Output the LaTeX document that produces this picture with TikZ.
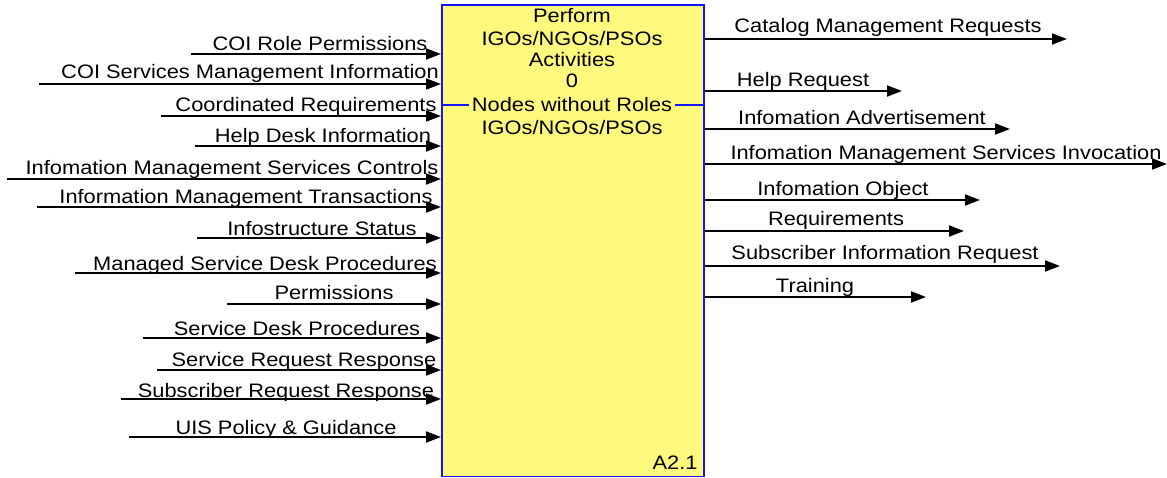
\documentclass[tikz,border=0pt]{standalone}
\usepackage{fontspec}
\setmainfont{Liberation Sans}
\newfontfamily\lblfont[FakeStretch=1.12]{Liberation Sans}
\usetikzlibrary{arrows.meta}
\definecolor{boxyellow}{RGB}{255,250,125}
\definecolor{boxblue}{RGB}{20,20,255}
\begin{document}
\begin{tikzpicture}[x=1pt,y=-1pt,
  lbl/.style={font=\lblfont\fontsize{19.5}{22}\selectfont, inner sep=0pt, anchor=base},
  flow/.style={line width=1.8pt, -{Triangle[length=15pt,width=11pt]}},
  actbox/.style={draw=boxblue, line width=1.8pt, fill=boxyellow, inner sep=0pt,
    minimum width=262pt, minimum height=471pt, anchor=north west},
  divider/.style={draw=boxblue, line width=1.4pt}]
\useasboundingbox (0,0) rectangle (1167,478);

% activity box
\node[actbox] (act) at (441,4.5) {};
\node[lbl] (t1) at (572,23) {Perform};
\node[lbl] (t2) at (572,46) {IGOs/NGOs/PSOs};
\node[lbl] (t3) at (572,67) {Activities};
\node[lbl] (t4) at (572,88) {0};
\node[lbl, inner xsep=3pt] (nwr) at (572,112) {Nodes without Roles};
\node[lbl] (t6) at (572,135) {IGOs/NGOs/PSOs};
\node[lbl] (num) at (675,469) {A2.1};
\draw[divider] (act.west |- 0,105) -- (nwr.west |- 0,105);
\draw[divider] (nwr.east |- 0,105) -- (act.east |- 0,105);

% inputs (left)
\node[lbl] (i1) at (320,51) {COI Role Permissions};
\coordinate (s1) at (191,54);
\node[lbl] (i2) at (250,79) {COI Services Management Information};
\coordinate (s2) at (39,84);
\node[lbl] (i3) at (306,112) {Coordinated Requirements};
\coordinate (s3) at (161,116);
\node[lbl] (i4) at (323,143) {Help Desk Information};
\coordinate (s4) at (195,146);
\node[lbl] (i5) at (232,175) {Infomation Management Services Controls};
\coordinate (s5) at (7,179);
\node[lbl] (i6) at (246,204) {Information Management Transactions};
\coordinate (s6) at (37,207);
\node[lbl] (i7) at (322,236) {Infostructure Status};
\coordinate (s7) at (197,238);
\node[lbl] (i8) at (265,271) {Managed Service Desk Procedures};
\coordinate (s8) at (75,273);
\node[lbl] (i9) at (334,300) {Permissions};
\coordinate (s9) at (227,304);
\node[lbl] (i10) at (297,335) {Service Desk Procedures};
\coordinate (s10) at (143,338);
\node[lbl] (i11) at (304,366) {Service Request Response};
\coordinate (s11) at (157,370);
\node[lbl] (i12) at (286,397) {Subscriber Request Response};
\coordinate (s12) at (121,399);
\node[lbl] (i13) at (286,434) {UIS Policy \& Guidance};
\coordinate (s13) at (129,437);

\foreach \k in {1,...,13} {
  \draw[flow] (s\k) -- (s\k -| act.west);
}

% outputs (right)
\node[lbl] (o1) at (888,33) {Catalog Management Requests};
\coordinate (e1) at (1067,39);
\node[lbl] (o2) at (803,87) {Help Request};
\coordinate (e2) at (902,91);
\node[lbl] (o3) at (862,125) {Infomation Advertisement};
\coordinate (e3) at (1010,129);
\node[lbl] (o4) at (946,160) {Infomation Management Services Invocation};
\coordinate (e4) at (1167,164);
\node[lbl] (o5) at (843,196) {Infomation Object};
\coordinate (e5) at (980,200);
\node[lbl] (o6) at (836,226) {Requirements};
\coordinate (e6) at (964,231);
\node[lbl] (o7) at (885,260) {Subscriber Information Request};
\coordinate (e7) at (1060,266);
\node[lbl] (o8) at (815,293) {Training};
\coordinate (e8) at (926,297);

\foreach \k in {1,...,8} {
  \draw[flow] (e\k -| act.east) -- (e\k);
}
\end{tikzpicture}
\end{document}
